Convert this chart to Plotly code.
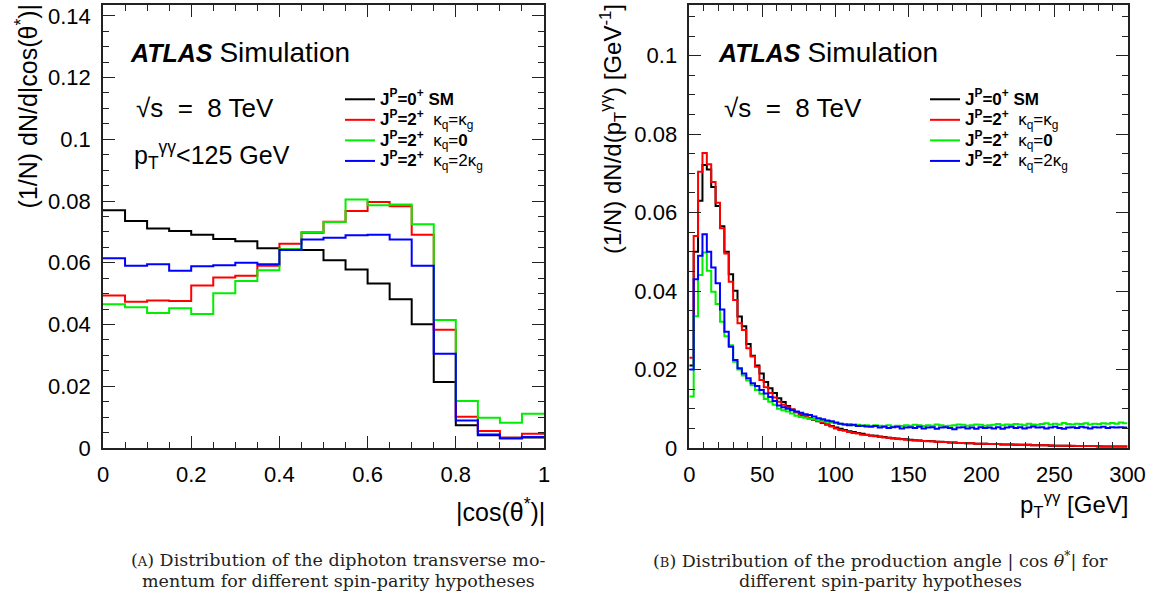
import numpy as np
import plotly.graph_objects as go

# ---------------- data: left panel, |cos(theta*)|, 20 bins 0..1 -------------
cos_edges_range = (0.0, 1.0)
cos_nbins = 20
cos_sm = [0.0770, 0.0735, 0.0711, 0.0703, 0.0691, 0.0677, 0.0670, 0.0647, 0.0643, 0.0641,
          0.0608, 0.0578, 0.0533, 0.0482, 0.0401, 0.0214, 0.0074, 0.0041, 0.0033, 0.0034]
cos_kqkg = [0.0494, 0.0474, 0.0478, 0.0476, 0.0526, 0.0552, 0.0558, 0.0590, 0.0662, 0.0697,
            0.0733, 0.0768, 0.0797, 0.0783, 0.0691, 0.0383, 0.0101, 0.0055, 0.0033, 0.0046]
cos_kq0 = [0.0466, 0.0456, 0.0437, 0.0453, 0.0434, 0.0501, 0.0541, 0.0576, 0.0644, 0.0700,
           0.0732, 0.0805, 0.0786, 0.0789, 0.0725, 0.0415, 0.0152, 0.0098, 0.0082, 0.0111]
cos_kq2kg = [0.0615, 0.0590, 0.0595, 0.0574, 0.0589, 0.0592, 0.0600, 0.0595, 0.0641, 0.0675,
             0.0681, 0.0689, 0.0691, 0.0675, 0.0590, 0.0305, 0.0089, 0.0044, 0.0031, 0.0036]

# ---------------- data: right panel, pT(gg), 100 bins 0..300 GeV -------------
pt_edges_range = (0.0, 300.0)
pt_nbins = 100
pt_sm = [0.0210, 0.0500, 0.0630, 0.0721, 0.0710, 0.0665, 0.0617, 0.0565, 0.0500, 0.0443,
         0.0401, 0.0335, 0.0310, 0.0265, 0.0235, 0.0210, 0.0190, 0.0168, 0.0152, 0.0140,
         0.0127, 0.0117, 0.0107, 0.0098, 0.0091, 0.0085, 0.0080, 0.0076, 0.0072, 0.0068,
         0.0064, 0.0060, 0.0056, 0.0052, 0.0049, 0.0046, 0.0043, 0.0041, 0.0038, 0.0036,
         0.0034, 0.0032, 0.0031, 0.0029, 0.0028, 0.0026, 0.0025, 0.0024, 0.0023, 0.0022,
         0.0021, 0.0020, 0.0019, 0.0018, 0.0018, 0.0017, 0.0016, 0.0016, 0.0015, 0.0014,
         0.0014, 0.0013, 0.0013, 0.0012, 0.0012, 0.0011, 0.0011, 0.0011, 0.0010, 0.0010,
         0.0010, 0.0009, 0.0009, 0.0009, 0.0008, 0.0008, 0.0008, 0.0008, 0.0007, 0.0007,
         0.0007, 0.0007, 0.0006, 0.0006, 0.0006, 0.0006, 0.0006, 0.0005, 0.0005, 0.0005,
         0.0005, 0.0005, 0.0005, 0.0004, 0.0004, 0.0004, 0.0004, 0.0004, 0.0004, 0.0004]
pt_kqkg = [0.0230, 0.0540, 0.0704, 0.0752, 0.0723, 0.0678, 0.0625, 0.0560, 0.0496, 0.0424,
           0.0377, 0.0318, 0.0301, 0.0254, 0.0233, 0.0207, 0.0173, 0.0155, 0.0140, 0.0129,
           0.0118, 0.0110, 0.0104, 0.0098, 0.0092, 0.0087, 0.0082, 0.0077, 0.0073, 0.0069,
           0.0065, 0.0060, 0.0055, 0.0050, 0.0046, 0.0044, 0.0041, 0.0038, 0.0037, 0.0034,
           0.0033, 0.0031, 0.0030, 0.0028, 0.0027, 0.0026, 0.0024, 0.0023, 0.0022, 0.0021,
           0.0020, 0.0019, 0.0019, 0.0018, 0.0017, 0.0017, 0.0016, 0.0015, 0.0015, 0.0014,
           0.0014, 0.0013, 0.0013, 0.0012, 0.0012, 0.0011, 0.0011, 0.0011, 0.0010, 0.0010,
           0.0010, 0.0009, 0.0009, 0.0009, 0.0009, 0.0008, 0.0008, 0.0008, 0.0007, 0.0007,
           0.0007, 0.0007, 0.0007, 0.0006, 0.0006, 0.0006, 0.0006, 0.0006, 0.0005, 0.0005,
           0.0005, 0.0005, 0.0005, 0.0005, 0.0004, 0.0004, 0.0004, 0.0004, 0.0004, 0.0004]
pt_kq0 = [0.0131, 0.0336, 0.0441, 0.0498, 0.0452, 0.0398, 0.0367, 0.0322, 0.0285, 0.0262,
          0.0220, 0.0200, 0.0185, 0.0172, 0.0160, 0.0148, 0.0138, 0.0125, 0.0118, 0.0110,
          0.0100, 0.0096, 0.0093, 0.0088, 0.0082, 0.0079, 0.0077, 0.0074, 0.0073, 0.0071,
          0.0069, 0.0067, 0.0065, 0.0063, 0.0062, 0.0060, 0.0061, 0.0058, 0.0059, 0.0057,
          0.0058, 0.0056, 0.0058, 0.0057, 0.0056, 0.0058, 0.0055, 0.0057, 0.0056, 0.0058,
          0.0057, 0.0059, 0.0058, 0.0056, 0.0058, 0.0057, 0.0060, 0.0058, 0.0056, 0.0057,
          0.0058, 0.0060, 0.0059, 0.0057, 0.0058, 0.0060, 0.0059, 0.0057, 0.0058, 0.0059,
          0.0061, 0.0058, 0.0060, 0.0059, 0.0061, 0.0060, 0.0058, 0.0062, 0.0060, 0.0059,
          0.0061, 0.0063, 0.0060, 0.0062, 0.0060, 0.0064, 0.0061, 0.0060, 0.0062, 0.0061,
          0.0063, 0.0060, 0.0062, 0.0061, 0.0063, 0.0062, 0.0064, 0.0062, 0.0065, 0.0063]
pt_kq2kg = [0.0200, 0.0430, 0.0490, 0.0545, 0.0500, 0.0460, 0.0420, 0.0353, 0.0296, 0.0258,
            0.0224, 0.0203, 0.0190, 0.0178, 0.0165, 0.0158, 0.0148, 0.0139, 0.0130, 0.0120,
            0.0108, 0.0104, 0.0100, 0.0096, 0.0093, 0.0090, 0.0086, 0.0084, 0.0080, 0.0076,
            0.0073, 0.0070, 0.0068, 0.0065, 0.0062, 0.0060, 0.0058, 0.0059, 0.0056, 0.0057,
            0.0055, 0.0054, 0.0056, 0.0052, 0.0054, 0.0051, 0.0053, 0.0054, 0.0050, 0.0052,
            0.0053, 0.0051, 0.0054, 0.0050, 0.0052, 0.0053, 0.0049, 0.0052, 0.0053, 0.0051,
            0.0048, 0.0052, 0.0053, 0.0050, 0.0052, 0.0049, 0.0053, 0.0051, 0.0052, 0.0050,
            0.0053, 0.0049, 0.0052, 0.0054, 0.0051, 0.0053, 0.0050, 0.0052, 0.0055, 0.0052,
            0.0053, 0.0050, 0.0052, 0.0054, 0.0051, 0.0049, 0.0052, 0.0053, 0.0051, 0.0054,
            0.0052, 0.0050, 0.0053, 0.0052, 0.0054, 0.0051, 0.0053, 0.0052, 0.0053, 0.0052]

series_names = [
    "<b>J<sup>P</sup>=0<sup>+</sup> SM</b>",
    "<b>J<sup>P</sup>=2<sup>+</sup></b>&nbsp; κ<sub>q</sub>=κ<sub>g</sub>",
    "<b>J<sup>P</sup>=2<sup>+</sup></b>&nbsp; κ<sub>q</sub>=<b>0</b>",
    "<b>J<sup>P</sup>=2<sup>+</sup></b>&nbsp; κ<sub>q</sub>=2κ<sub>g</sub>",
]
series_colors = ["#000000", "#ff0000", "#00ee00", "#0000ff"]

W, H = 1157, 600
FONT = "Liberation Sans, Arial, Helvetica, sans-serif"
SERIF = "DejaVu Serif, serif"


def px(x):
    return x / W


def py(y):
    return 1 - y / H


fig = go.Figure()


def add_hist(edges_range, nbins, values, name, color, xaxis, yaxis, legend):
    edges = np.linspace(edges_range[0], edges_range[1], nbins + 1)
    yy = list(values) + [values[-1]]
    label = "<span style='font-size:17px'>" + name + "</span>"
    fig.add_trace(go.Scatter(
        x=edges, y=yy, mode="lines", line=dict(color=color, width=2, shape="hv"),
        name=label, xaxis=xaxis, yaxis=yaxis, legend=legend, hoverinfo="skip"))


for vals, nm, col in zip([cos_sm, cos_kqkg, cos_kq0, cos_kq2kg], series_names, series_colors):
    add_hist(cos_edges_range, cos_nbins, vals, nm, col, "x", "y", "legend")
for vals, nm, col in zip([pt_sm, pt_kqkg, pt_kq0, pt_kq2kg], series_names, series_colors):
    add_hist(pt_edges_range, pt_nbins, vals, nm, col, "x2", "y2", "legend2")

axis_common = dict(
    showline=True, linecolor="#222", linewidth=1.5, mirror="ticks",
    ticks="inside", tickcolor="#222", tickwidth=1, ticklen=12,
    showgrid=False, zeroline=False, automargin=False,
    tickfont=dict(family=FONT, size=22, color="#000"),
    ticklabelstandoff=6,
)
minor_common = dict(ticks="inside", ticklen=6, tickcolor="#222", tickwidth=1, showgrid=False)

legend_common = dict(xanchor="left", yanchor="top", bgcolor="rgba(0,0,0,0)",
                     font=dict(family=FONT, size=13.5, color="#000"),
                     tracegroupgap=0, itemwidth=30, traceorder="normal")

dom_y = [py(448), py(5)]
fig.update_layout(
    width=W, height=H, margin=dict(l=0, r=0, t=0, b=0, autoexpand=False),
    paper_bgcolor="white", plot_bgcolor="white",
    xaxis=dict(domain=[px(103), px(544)], range=[0, 1], dtick=0.2, tick0=0,
               minor=dict(dtick=0.05, **minor_common), anchor="y", **axis_common),
    yaxis=dict(domain=dom_y, range=[0, 0.1435], dtick=0.02, tick0=0,
               minor=dict(dtick=0.005, **minor_common), anchor="x", **axis_common),
    xaxis2=dict(domain=[px(689.3), px(1127.5)], range=[0, 300], dtick=50, tick0=0,
                minor=dict(dtick=10, **minor_common), anchor="y2", **axis_common),
    yaxis2=dict(domain=dom_y, range=[0, 0.1129], dtick=0.02, tick0=0,
                minor=dict(dtick=0.005, **minor_common), anchor="x2", **axis_common),
    legend=dict(x=px(340), y=py(84), **legend_common),
    legend2=dict(x=px(925), y=py(84), **legend_common),
    showlegend=True,
)

ann = []


def text(x, y, t, size, xanchor="left", yanchor="middle", angle=0, family=FONT, color="#000"):
    ann.append(dict(x=x, y=y, xref="paper", yref="paper", text=t, showarrow=False,
                    xanchor=xanchor, yanchor=yanchor, textangle=angle,
                    font=dict(family=family, size=size, color=color)))


# labels inside frames
atlas = "<b><i>ATLAS</i></b> <span style='font-size:28px'>Simulation</span>"
text(px(128), py(52), atlas, 25)
text(px(716), py(52), atlas, 25)
sqrt_s = "√s&nbsp; =&nbsp; 8 TeV"
text(px(134), py(108), sqrt_s, 26)
text(px(722), py(108), sqrt_s, 26)
text(px(132), py(155), "p<sub>T</sub><sup>γγ</sup>&lt;125 GeV", 25)

# axis titles
text(px(27), py(2), "(1/N) dN/d|cos(θ<sup>*</sup>)|", 25, xanchor="center", yanchor="top", angle=-90)
text(px(613), py(2), "(1/N) dN/d(p<sub>T</sub><sup>γγ</sup>) [GeV<sup>-1</sup>]", 24,
     xanchor="center", yanchor="top", angle=-90)
text(px(547), py(510), "|cos(θ<sup>*</sup>)|", 25, xanchor="right")
text(px(1130), py(505), "p<sub>T</sub><sup>γγ</sup> [GeV]", 24, xanchor="right")

# captions
cap = "#222"
text(px(129), py(560), "(<span style='font-size:13px'>A</span>) Distribution of the diphoton transverse mo-",
     17.5, family=SERIF, color=cap)
text(px(338), py(581), "mentum for different spin-parity hypotheses", 17.5, xanchor="center",
     family=SERIF, color=cap)
text(px(880), py(560), "(<span style='font-size:13px'>B</span>) Distribution of the production angle | cos <i>θ</i><sup>*</sup>| for",
     17.5, xanchor="center", family=SERIF, color=cap)
text(px(880), py(581), "different spin-parity hypotheses", 17.5, xanchor="center",
     family=SERIF, color=cap)

fig.update_layout(annotations=ann)
fig.write_html("out.html")
